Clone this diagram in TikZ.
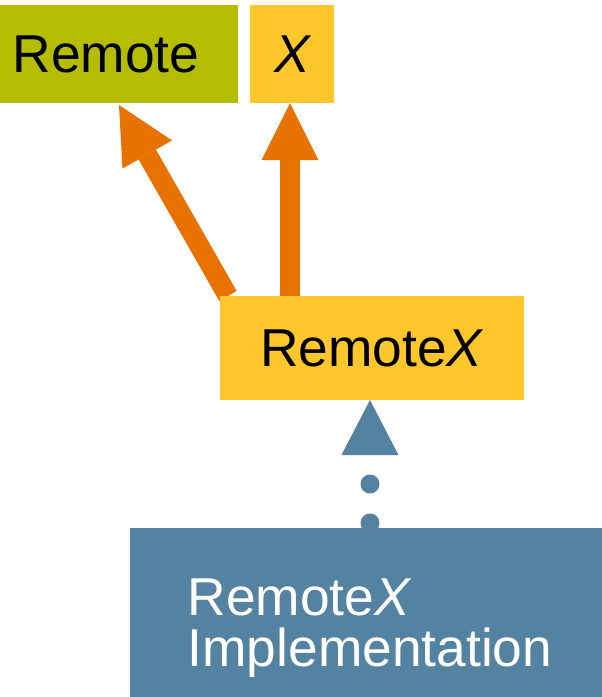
\documentclass[tikz,border=0pt]{standalone}
\usepackage{fontspec}
\setmainfont{Liberation Sans}
\usetikzlibrary{arrows.meta,calc,backgrounds}
\definecolor{olive}{RGB}{181,189,0}
\definecolor{gold}{RGB}{255,199,44}
\definecolor{burnt}{RGB}{232,114,0}
\definecolor{steel}{RGB}{84,130,161}
\tikzset{
  box/.style={rectangle, inner sep=0pt, outer sep=0pt, draw=none,
    font=\fontsize{40}{38.25}\selectfont},
  inherit/.style={draw=burnt, line width=15pt,
    -{Triangle[width=42.75pt,length=42.75pt,line width=0pt]}},
  realize/.style={draw=steel, line width=14.25pt, line cap=round,
    dash pattern=on 0pt off 29.25pt,
    -{Triangle[width=42.75pt,length=41.25pt,line width=0pt,fill=steel]}}
}
\begin{document}
\begin{tikzpicture}[x=0.75pt,y=-0.75pt]
\useasboundingbox (0,0) rectangle (602,697);
\node[box, fill=olive, minimum width=198pt, minimum height=73.5pt] (remote) at (106,54) {Remote};
\node[box, fill=gold, minimum width=63pt, minimum height=73.5pt] (xbox) at (292,54) {\itshape X};
\node[box, fill=gold, minimum width=228pt, minimum height=78pt] (rx) at (372,348) {Remote\textit{X}};
\node[box, fill=steel, text=white, align=left, text depth=0pt, minimum width=360pt, minimum height=141.75pt] (impl) at (370,622.5) {Remote\textit{X}\\Implementation};
\begin{pgfonlayer}{background}
\draw[inherit] ($(rx.north west)+(8,0)$) -- ($(remote.south east)+(-119,2)$);
\draw[inherit] ($(rx.north west)+(70,0)$) -- ($(xbox.south)+(-2,0)$);
\draw[realize] ($(impl.north)+(0,-5)$) -- ($(rx.south)+(-2,0)$);
\end{pgfonlayer}
\end{tikzpicture}
\end{document}
